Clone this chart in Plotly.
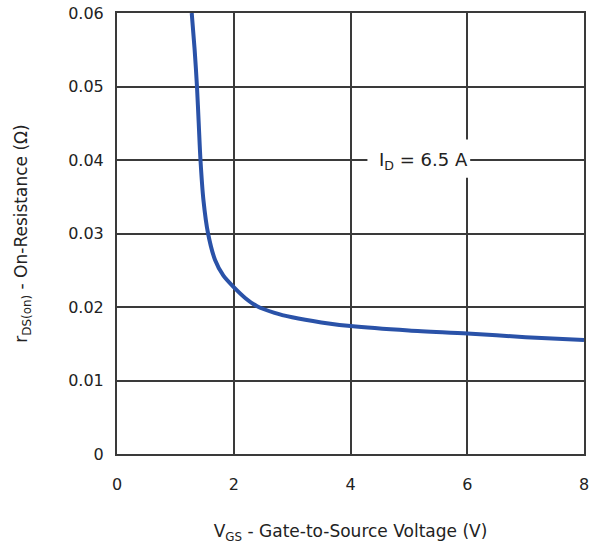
import plotly.graph_objects as go

# Data (V_GS in volts, r_DS(on) in ohms)
vgs = [1.28, 1.33, 1.37, 1.40, 1.43, 1.48, 1.56, 1.68, 1.82, 2.0, 2.2, 2.4, 2.7, 3.0, 3.5, 4.0, 5.0, 6.0, 7.0, 8.0]
rds = [0.060, 0.055, 0.050, 0.045, 0.040, 0.0346, 0.030, 0.0264, 0.0243, 0.0227, 0.0212, 0.0201, 0.0192, 0.0186, 0.0179, 0.0174, 0.0168, 0.0164, 0.0159, 0.0155]

x_ticks = [0, 2, 4, 6, 8]
y_ticks = [0, 0.01, 0.02, 0.03, 0.04, 0.05, 0.06]
y_tick_text = ["0", "0.01", "0.02", "0.03", "0.04", "0.05", "0.06"]

annotation_text = "I<sub>D</sub> = 6.5 A"
x_title = "V<sub>GS</sub> - Gate-to-Source Voltage (V)"
y_title = "r<sub>DS(on)</sub> - On-Resistance (Ω)"

font_family = "DejaVu Sans, Liberation Sans, sans-serif"
grid_color = "#3a3a3a"

fig = go.Figure()
fig.add_trace(go.Scatter(
    x=vgs, y=rds, mode="lines",
    line=dict(color="#2a52a8", width=4, shape="spline", smoothing=0.8),
    showlegend=False, hoverinfo="skip",
))

# white box behind the annotation label
fig.add_shape(type="rect", xref="x", yref="y",
              x0=4.29, x1=6.05, y0=0.0376, y1=0.0428,
              fillcolor="white", line=dict(width=0), layer="above")
fig.add_annotation(x=5.25, y=0.0398, xref="x", yref="y", text=annotation_text,
                   showarrow=False, font=dict(family=font_family, size=18, color="#222"),
                   xanchor="center", yanchor="middle")

fig.update_layout(
    width=591, height=544,
    margin=dict(l=117, r=7, t=13, b=90, autoexpand=False),
    paper_bgcolor="white", plot_bgcolor="white",
    font=dict(family=font_family, size=16, color="#222"),
)
fig.update_xaxes(
    range=[0, 8], tickvals=x_ticks, ticktext=[str(v) for v in x_ticks],
    showgrid=True, gridcolor=grid_color, gridwidth=2,
    showline=True, linecolor=grid_color, linewidth=2, mirror=True,
    zeroline=False, ticks="", ticklabelstandoff=15, automargin=False,
    title=dict(text=x_title, font=dict(size=17), standoff=32),
    fixedrange=True,
)
fig.update_yaxes(
    range=[0, 0.06], tickvals=y_ticks, ticktext=y_tick_text,
    showgrid=True, gridcolor=grid_color, gridwidth=2,
    showline=True, linecolor=grid_color, linewidth=2, mirror=True,
    zeroline=False, ticks="", ticklabelstandoff=8, automargin=False,
    title=dict(text=y_title, font=dict(size=17), standoff=36),
    fixedrange=True,
)

fig.write_html("out.html", config={"displayModeBar": False},
               post_script="document.body.style.margin='0px';")
